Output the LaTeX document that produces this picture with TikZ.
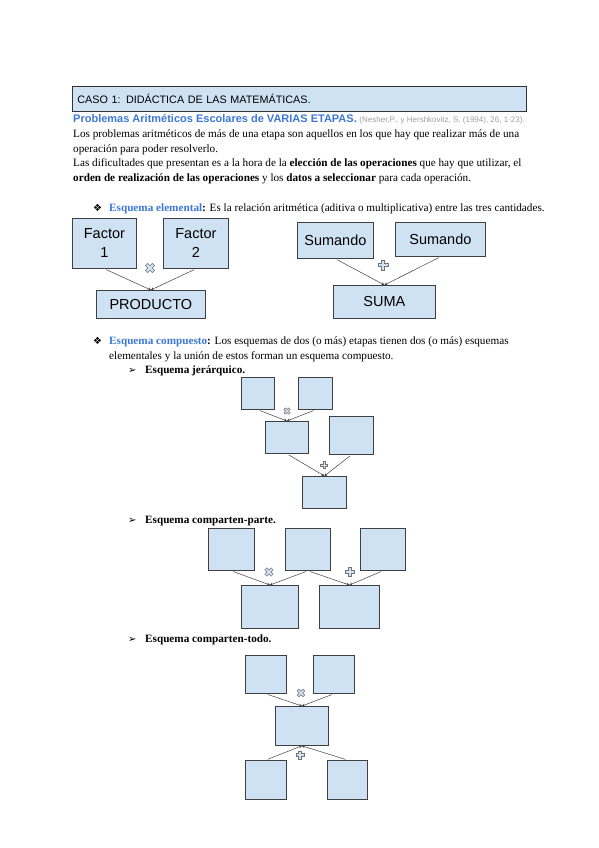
\documentclass[tikz,border=0pt]{standalone}
\usepackage{fontspec}
\setmainfont{Liberation Serif}
\setsansfont{Liberation Sans}
\newfontfamily\simbolos{DejaVu Sans}
\usetikzlibrary{arrows.meta}
\definecolor{boxblue}{HTML}{CFE2F3}
\definecolor{linkblue}{HTML}{3C78D8}
\definecolor{citegray}{HTML}{A0A0A0}
\tikzset{
  txt/.style={anchor=base west, inner sep=0pt, font=\fontsize{11.2}{13}\selectfont},
  cajon/.style={draw=black!75, fill=boxblue, line width=0.8pt, anchor=north west,
    inner sep=0pt, align=center, font=\sffamily\fontsize{14.5}{19}\selectfont},
  enlace/.style={draw=black!75, line width=0.5pt, -{Stealth[length=3pt,width=3pt]},
    shorten <=2pt},
  mas/.pic={\filldraw[fill=boxblue, draw=black!55, line width=0.5pt]
    (-1.4,-4.5) -- (1.4,-4.5) -- (1.4,-1.4) -- (4.5,-1.4) -- (4.5,1.4) -- (1.4,1.4)
    -- (1.4,4.5) -- (-1.4,4.5) -- (-1.4,1.4) -- (-4.5,1.4) -- (-4.5,-1.4) -- (-1.4,-1.4) -- cycle;},
  por/.pic={\filldraw[fill=boxblue, draw=black!55, line width=0.5pt, rotate=45]
    (-1.4,-4.5) -- (1.4,-4.5) -- (1.4,-1.4) -- (4.5,-1.4) -- (4.5,1.4) -- (1.4,1.4)
    -- (1.4,4.5) -- (-1.4,4.5) -- (-1.4,1.4) -- (-4.5,1.4) -- (-4.5,-1.4) -- (-1.4,-1.4) -- cycle;}
}
\begin{document}
\begin{tikzpicture}[x=1pt, y=-1pt]
\useasboundingbox[fill=white] (0,0) rectangle (599,848);
% cabecera
\node[draw=black!80, fill=boxblue, line width=0.8pt, anchor=north west, minimum width=454,
  minimum height=25, text width=444, align=left, inner sep=5pt,
  font=\sffamily\fontsize{10.8}{12}\selectfont] (caso) at (72,86) {CASO 1: DIDÁCTICA DE LAS MATEMÁTICAS.};
\node[txt, font=\sffamily\bfseries\fontsize{11}{13}\selectfont, text=linkblue] (titulo) at (73,123)
  {Problemas Aritméticos Escolares de VARIAS ETAPAS.};
\node[txt, font=\sffamily\fontsize{8}{9}\selectfont, text=citegray, anchor=base west] (cita) at (titulo.base east)
  {\ (Nesher,P., y Hershkovitz, S. (1994), 26, 1-23).};
\node[txt] (l1) at (73,137) {Los problemas aritméticos de más de una etapa son aquellos en los que hay que realizar más de una};
\node[txt] (l2) at (73,152) {operación para poder resolverlo.};
\node[txt] (l3) at (73,166) {Las dificultades que presentan es a la hora de la \textbf{elección de las operaciones} que hay que utilizar, el};
\node[txt] (l4) at (73,181) {\textbf{orden de realización de las operaciones} y los \textbf{datos a seleccionar} para cada operación.};

% esquema elemental
\node[txt, font=\simbolos\fontsize{10}{11}\selectfont] (v1) at (93,211) {❖};
\node[txt] (elem) at (109,211) {\textbf{\textcolor{linkblue}{Esquema elemental}:} Es la relación aritmética (aditiva o multiplicativa) entre las tres cantidades.};
\node[cajon, minimum width=64, minimum height=50] (f1) at (72,218) {Factor\\1};
\node[cajon, minimum width=65, minimum height=50] (f2) at (163,218) {Factor\\2};
\node[cajon, minimum width=109, minimum height=28] (prod) at (96,290) {PRODUCTO};
\draw[enlace] (f1.south) -- (prod.north);
\draw[enlace] (f2.south) -- (prod.north);
\pic[scale=1.1] at (150,268) {por};
\node[cajon, minimum width=76, minimum height=36] (s1) at (297,222) {Sumando};
\node[cajon, minimum width=90, minimum height=34] (s2) at (395,222) {Sumando};
\node[cajon, minimum width=102, minimum height=33] (suma) at (333,285) {SUMA};
\draw[enlace] (s1.south) -- (suma.north);
\draw[enlace] (s2.south) -- (suma.north);
\pic[scale=1.15] at (383,265) {mas};

% esquema compuesto
\node[txt, font=\simbolos\fontsize{10}{11}\selectfont] (v2) at (93,344) {❖};
\node[txt] (comp) at (109,344) {\textbf{\textcolor{linkblue}{Esquema compuesto}:} Los esquemas de dos (o más) etapas tienen dos (o más) esquemas};
\node[txt] (comp2) at (109,359) {elementales y la unión de estos forman un esquema compuesto.};

% jerarquico
\node[txt, font=\simbolos\fontsize{10}{11}\selectfont] (f3) at (128,373) {➢};
\node[txt] (jer) at (145,373) {\textbf{Esquema jerárquico.}};
\node[cajon, minimum width=33, minimum height=32] (ja) at (241,377) {};
\node[cajon, minimum width=34, minimum height=32] (jb) at (298,377) {};
\node[cajon, minimum width=43, minimum height=32] (jc) at (265,421) {};
\node[cajon, minimum width=44, minimum height=38] (jd) at (329,416) {};
\node[cajon, minimum width=44, minimum height=32] (je) at (302,476) {};
\draw[enlace] (ja.south) -- (jc.north);
\draw[enlace] (jb.south) -- (jc.north);
\draw[enlace] (jc.south) -- (je.north);
\draw[enlace] (jd.south) -- (je.north);
\pic[scale=0.75] at (287,411) {por};
\pic[scale=0.8] at (324,465) {mas};

% comparten parte
\node[txt, font=\simbolos\fontsize{10}{11}\selectfont] (f4) at (128,523) {➢};
\node[txt] (cpp) at (145,523) {\textbf{Esquema comparten-parte.}};
\node[cajon, minimum width=46, minimum height=42] (pa) at (208,528) {};
\node[cajon, minimum width=45, minimum height=42] (pb) at (285,528) {};
\node[cajon, minimum width=45, minimum height=42] (pc) at (360,528) {};
\node[cajon, minimum width=57, minimum height=43] (pd) at (241,585) {};
\node[cajon, minimum width=60, minimum height=43] (pe) at (319,585) {};
\draw[enlace] (pa.south) -- (pd.north);
\draw[enlace] (pb.south) -- (pd.north);
\draw[enlace] (pb.south) -- (pe.north);
\draw[enlace] (pc.south) -- (pe.north);
\pic[scale=1] at (269,572) {por};
\pic[scale=1] at (350,572) {mas};

% comparten todo
\node[txt, font=\simbolos\fontsize{10}{11}\selectfont] (f5) at (128,642) {➢};
\node[txt] (cpt) at (145,642) {\textbf{Esquema comparten-todo.}};
\node[cajon, minimum width=41, minimum height=38] (ta) at (245,655) {};
\node[cajon, minimum width=41, minimum height=38] (tb) at (313,655) {};
\node[cajon, minimum width=53, minimum height=39] (tc) at (275,706) {};
\node[cajon, minimum width=41, minimum height=39] (td) at (245,760) {};
\node[cajon, minimum width=40, minimum height=39] (te) at (327,760) {};
\draw[enlace] (ta.south) -- (tc.north);
\draw[enlace] (tb.south) -- (tc.north);
\draw[enlace] (td.north) -- (tc.south);
\draw[enlace] (te.north) -- (tc.south);
\pic[scale=0.9] at (301,693) {por};
\pic[scale=0.9] at (300,755) {mas};
\end{tikzpicture}
\end{document}
